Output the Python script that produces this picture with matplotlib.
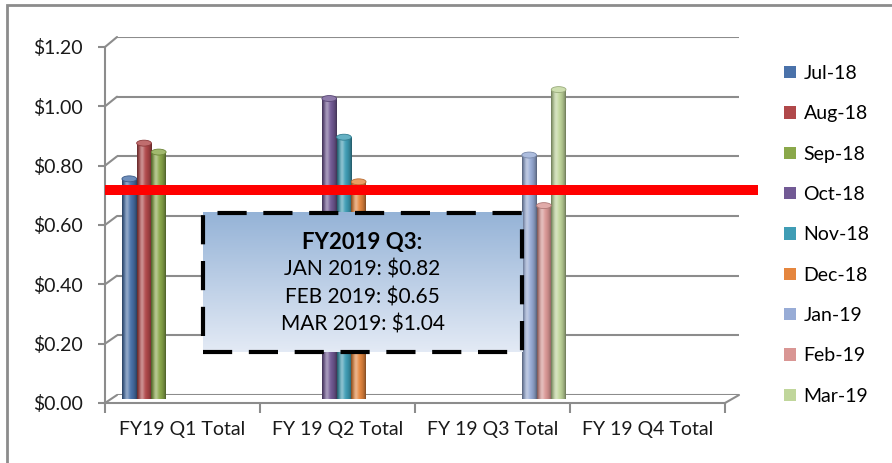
import numpy as np
import matplotlib
matplotlib.use("Agg")
import matplotlib.pyplot as plt
from matplotlib.patches import Ellipse, Rectangle, Patch, ConnectionPatch
from matplotlib.colors import to_rgb

plt.rcParams['font.family'] = ['Lato', 'DejaVu Sans']

# data
quarters = ['FY19 Q1 Total', 'FY 19 Q2 Total', 'FY 19 Q3 Total', 'FY 19 Q4 Total']
months = ['Jul-18', 'Aug-18', 'Sep-18', 'Oct-18', 'Nov-18', 'Dec-18',
          'Jan-19', 'Feb-19', 'Mar-19']
month_quarter = [0, 0, 0, 1, 1, 1, 2, 2, 2]
values = [0.74, 0.86, 0.83, 1.01, 0.88, 0.73, 0.82, 0.65, 1.04]
colors = ['#4a72aa', '#b0484a', '#8aa84a', '#725a95', '#3f9db5', '#e5863e',
          '#98acd6', '#d99694', '#c0d69b']
target = 0.718
box_title = 'FY2019 Q3:'
box_labels = ['JAN 2019', 'FEB 2019', 'MAR 2019']

yticks = np.arange(0, 1.21, 0.2)
grid_c = '#8c8c8c'

fig = plt.figure(figsize=(8.92, 4.63), dpi=100)

# back wall (gridlines)
back = fig.add_axes([117/892, 68/463, 622/892, 358/463])
back.set_xlim(0, 4)
back.set_ylim(0, 1.2)
back.axis('off')
for v in yticks:
    back.axhline(v, color=grid_c, lw=1.5, zorder=0)

# middle plane for the cylinders
mid = fig.add_axes([111/892, 64/463, 620/892, 357/463])
mid.axis('off')

# front plane (axes)
ax = fig.add_axes([105/892, 60/463, 620/892, 356/463])
ax.patch.set_alpha(0)
ax.set_xlim(0, 4)
ax.set_ylim(0, 1.2)
for s in ['top', 'right']:
    ax.spines[s].set_visible(False)
for s in ['left', 'bottom']:
    ax.spines[s].set_color(grid_c)
    ax.spines[s].set_linewidth(1.5)
ax.set_yticks(yticks)
ax.set_yticklabels(['${:.2f}'.format(v) for v in yticks])
ax.set_xticks(np.arange(0, 5))
ax.set_xticklabels([])
ax.set_xticks(np.arange(4) + 0.5, minor=True)
ax.set_xticklabels(quarters, minor=True)
ax.tick_params(axis='y', direction='out', length=5, width=1.5, color=grid_c,
               pad=11, labelsize=14, labelcolor='#1a1a1a')
ax.tick_params(axis='x', which='major', direction='out', length=7, width=1.5,
               color=grid_c)
ax.tick_params(axis='x', which='minor', length=0, pad=13, labelsize=14,
               labelcolor='#1a1a1a')

# connectors between front and back planes
for v in yticks:
    fig.add_artist(ConnectionPatch((0, v), (0, v), 'data', 'data', axesA=ax,
                                   axesB=back, color=grid_c, lw=1.5))
fig.add_artist(ConnectionPatch((4, 0), (4, 0), 'data', 'data', axesA=ax,
                               axesB=back, color=grid_c, lw=1.5))

# cylinder bars
bw = 0.095
group_step = 1.29
group_start = 0.213
t = np.linspace(0, 1, 40)
shade = 0.55 + 0.45 * np.sin(np.pi * t) ** 0.7
light = 0.4 * np.exp(-((t - 0.33) / 0.17) ** 2)
slot = [0, 1, 2, 0, 1, 2, 0, 1, 2]
for i, (q, v, c) in enumerate(zip(month_quarter, values, colors)):
    xc = group_start + group_step * q + (slot[i] - 1) * bw
    base = np.array(to_rgb(c))
    row = base[None, :] * shade[:, None]
    row = row + (1 - row) * light[:, None]
    img = np.repeat(row[None, :, :], 2, axis=0)
    mid.imshow(img, extent=[xc - bw/2, xc + bw/2, 0, v], aspect='auto',
               interpolation='bilinear', zorder=2)
    cap = base + (1 - base) * 0.2
    mid.add_patch(Ellipse((xc, v), bw, 0.02, facecolor=cap,
                          edgecolor=base * 0.8, lw=0.6, zorder=3))
mid.set_xlim(0, 4)
mid.set_ylim(0, 1.2)

# red target line
ax.plot([0, 1.053], [target, target], color='#ff0000', lw=7.2,
        transform=ax.get_yaxis_transform(), clip_on=False, zorder=5,
        solid_capstyle='butt')

# callout box with gradient
bx0, bx1, by0, by1 = 0.158, 0.673, 0.143, 0.534
grad = np.linspace(0, 1, 100)[:, None]
top_c = np.array(to_rgb('#95b3d7'))
bot_c = np.array(to_rgb('#e3eaf5'))
gimg = top_c[None, None, :] * (1 - grad[:, :, None]) + bot_c[None, None, :] * grad[:, :, None]
ax.imshow(gimg, extent=[bx0, bx1, by0, by1], transform=ax.transAxes,
          aspect='auto', zorder=6)
ax.add_patch(Rectangle((bx0, by0), bx1 - bx0, by1 - by0, transform=ax.transAxes,
                       fill=False, edgecolor='black', lw=3,
                       linestyle=(0, (7, 4)), zorder=7, clip_on=False))
ax.set_xlim(0, 4)
ax.set_ylim(0, 1.2)
q3 = [v for v, q in zip(values, month_quarter) if q == 2]
lines = [box_title] + ['{}: ${:.2f}'.format(l, v) for l, v in zip(box_labels, q3)]
cx = (bx0 + bx1) / 2
for k, s in enumerate(lines):
    ax.text(cx, 0.451 - k * 0.077, s, transform=ax.transAxes, ha='center',
            va='center', fontsize=16 if k == 0 else 15, color='black', zorder=8,
            fontweight='bold' if k == 0 else 'normal')

# legend
handles = [Patch(facecolor=c, edgecolor='none') for c in colors]
fig.legend(handles, months, loc='upper left', bbox_to_anchor=(784/892, 1 - 65/463),
           frameon=False, fontsize=14, handlelength=0.6, handleheight=0.6,
           handletextpad=0.4, labelspacing=1.2, borderpad=0, borderaxespad=0)

# outer border
fig.patches.append(Rectangle((7/892, -0.1), 1.2, 1 - 5/463 + 0.1,
                             transform=fig.transFigure, fill=False,
                             edgecolor='#8c8c8c', lw=2))

fig.savefig('out.png', dpi=100)
